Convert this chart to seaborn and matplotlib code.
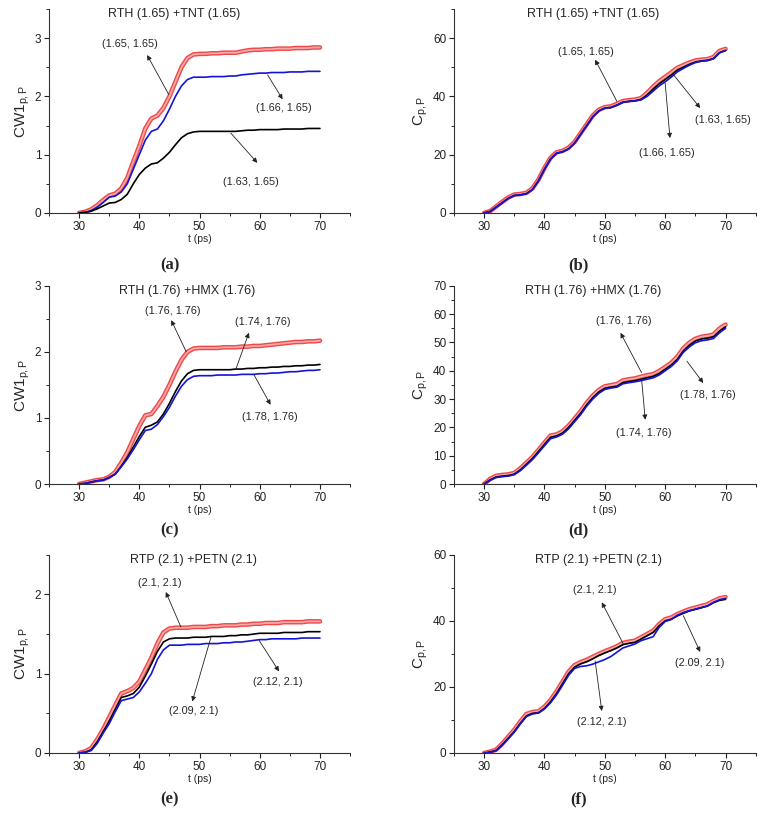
import matplotlib
matplotlib.use("Agg")
import matplotlib.pyplot as plt
import matplotlib.patheffects as pe
import seaborn as sns
from matplotlib.ticker import MultipleLocator

# time axis (ps), shared by all panels
t_ps = list(range(30, 71))

# (a) RTH (1.65) + TNT (1.65), CW1
a_165_165 = [0.00, 0.02, 0.06, 0.13, 0.22, 0.30, 0.33, 0.42, 0.60, 0.88, 1.15,
             1.45, 1.62, 1.67, 1.80, 2.00, 2.25, 2.50, 2.66, 2.72, 2.73,
             2.73, 2.74, 2.74, 2.75, 2.75, 2.75, 2.77, 2.79, 2.80, 2.80,
             2.81, 2.81, 2.82, 2.82, 2.82, 2.83, 2.83, 2.83, 2.84, 2.84]
a_166_165 = [0.00, 0.01, 0.04, 0.10, 0.18, 0.27, 0.29, 0.36, 0.50, 0.75, 1.00,
             1.25, 1.40, 1.44, 1.58, 1.78, 2.00, 2.18, 2.29, 2.33, 2.33,
             2.33, 2.34, 2.34, 2.34, 2.35, 2.35, 2.37, 2.38, 2.39, 2.40,
             2.40, 2.41, 2.41, 2.41, 2.42, 2.42, 2.42, 2.43, 2.43, 2.43]
a_163_165 = [0.00, 0.01, 0.03, 0.07, 0.12, 0.17, 0.18, 0.23, 0.32, 0.50, 0.66,
             0.77, 0.84, 0.86, 0.94, 1.04, 1.17, 1.29, 1.36, 1.39, 1.40,
             1.40, 1.40, 1.40, 1.40, 1.40, 1.40, 1.41, 1.42, 1.42, 1.43,
             1.43, 1.43, 1.43, 1.44, 1.44, 1.44, 1.44, 1.45, 1.45, 1.45]

# (b) RTH (1.65) + TNT (1.65), C
b_165_165 = [0.0, 0.6, 2.2, 3.8, 5.3, 6.3, 6.5, 6.9, 8.4, 11.4, 15.4,
             18.9, 20.8, 21.3, 22.4, 24.4, 27.4, 30.4, 33.4, 35.4, 36.3,
             36.6, 37.4, 38.4, 38.7, 38.9, 39.4, 41.2, 43.3, 45.2, 46.7,
             48.2, 49.8, 50.7, 51.6, 52.3, 52.6, 52.8, 53.5, 55.6, 56.3]
b_166_165 = [0.0, 0.5, 2.0, 3.5, 5.0, 6.0, 6.2, 6.6, 8.0, 11.0, 15.0,
             18.5, 20.5, 21.0, 22.0, 24.0, 27.0, 30.0, 33.0, 35.0, 36.0,
             36.2, 37.0, 38.0, 38.3, 38.5, 38.8, 40.0, 41.8, 43.6, 45.0,
             46.6, 48.4, 49.6, 50.7, 51.6, 52.1, 52.3, 52.9, 55.0, 55.7]
b_163_165 = [0.0, 0.5, 2.0, 3.5, 5.0, 6.0, 6.2, 6.6, 8.0, 11.0, 15.0,
             18.5, 20.5, 21.0, 22.0, 24.0, 27.0, 30.0, 33.0, 35.0, 36.0,
             36.2, 37.0, 38.0, 38.3, 38.5, 39.0, 40.5, 42.5, 44.3, 45.8,
             47.3, 49.0, 50.0, 51.0, 51.8, 52.2, 52.4, 53.0, 55.0, 55.8]

# (c) RTH (1.76) + HMX (1.76), CW1
c_176_176 = [0.00, 0.02, 0.04, 0.06, 0.07, 0.11, 0.18, 0.32, 0.48, 0.68, 0.88,
             1.04, 1.06, 1.18, 1.32, 1.50, 1.70, 1.88, 2.00, 2.05, 2.06,
             2.06, 2.06, 2.06, 2.07, 2.07, 2.07, 2.08, 2.08, 2.09, 2.09,
             2.10, 2.11, 2.12, 2.13, 2.14, 2.15, 2.15, 2.16, 2.16, 2.17]
c_174_176 = [0.00, 0.01, 0.03, 0.05, 0.06, 0.10, 0.15, 0.27, 0.40, 0.56, 0.72,
             0.86, 0.89, 0.94, 1.06, 1.22, 1.40, 1.56, 1.67, 1.72, 1.73,
             1.73, 1.73, 1.73, 1.73, 1.73, 1.74, 1.74, 1.75, 1.75, 1.76,
             1.76, 1.77, 1.77, 1.78, 1.78, 1.79, 1.79, 1.80, 1.80, 1.81]
c_178_176 = [0.00, 0.01, 0.03, 0.05, 0.06, 0.10, 0.15, 0.26, 0.38, 0.52, 0.67,
             0.81, 0.83, 0.90, 1.02, 1.16, 1.33, 1.48, 1.58, 1.63, 1.64,
             1.64, 1.64, 1.65, 1.65, 1.65, 1.65, 1.66, 1.66, 1.66, 1.67,
             1.67, 1.68, 1.68, 1.69, 1.70, 1.70, 1.71, 1.72, 1.72, 1.73]

# (d) RTH (1.76) + HMX (1.76), C
d_176_176 = [0.0, 1.8, 2.9, 3.2, 3.4, 3.9, 5.5, 7.5, 9.5, 12.0, 14.6,
             17.1, 17.5, 18.6, 20.6, 23.1, 25.7, 28.7, 31.2, 33.2, 34.5,
             34.9, 35.3, 36.6, 37.0, 37.3, 37.9, 38.4, 38.8, 39.9, 41.3,
             42.8, 44.9, 47.9, 49.9, 51.3, 52.0, 52.3, 52.8, 54.9, 56.3]
d_174_176 = [0.0, 1.5, 2.5, 2.8, 3.0, 3.5, 5.0, 7.0, 9.0, 11.5, 14.0,
             16.5, 17.0, 18.0, 20.0, 22.5, 25.0, 28.0, 30.5, 32.5, 33.8,
             34.2, 34.5, 35.8, 36.2, 36.5, 37.0, 37.5, 38.0, 39.0, 40.5,
             42.0, 44.0, 47.0, 49.0, 50.5, 51.2, 51.5, 52.0, 54.0, 55.5]
d_178_176 = [0.0, 1.3, 2.3, 2.6, 2.8, 3.3, 4.7, 6.6, 8.6, 11.0, 13.5,
             16.0, 16.6, 17.6, 19.5, 22.0, 24.5, 27.5, 30.0, 32.0, 33.4,
             33.9, 34.2, 35.4, 35.8, 36.1, 36.5, 37.0, 37.5, 38.5, 40.0,
             41.5, 43.5, 46.5, 48.4, 49.9, 50.6, 50.9, 51.4, 53.4, 55.0]

# (e) RTP (2.1) + PETN (2.1), CW1
e_210_210 = [0.00, 0.02, 0.06, 0.17, 0.30, 0.45, 0.60, 0.75, 0.78, 0.82, 0.90,
             1.05, 1.20, 1.38, 1.52, 1.57, 1.58, 1.58, 1.58, 1.59, 1.59,
             1.59, 1.60, 1.60, 1.61, 1.61, 1.61, 1.62, 1.62, 1.63, 1.63,
             1.64, 1.64, 1.64, 1.65, 1.65, 1.65, 1.65, 1.66, 1.66, 1.66]
e_209_210 = [0.00, 0.01, 0.04, 0.14, 0.27, 0.40, 0.55, 0.70, 0.72, 0.75, 0.83,
             0.97, 1.12, 1.28, 1.40, 1.44, 1.45, 1.45, 1.45, 1.46, 1.46,
             1.46, 1.47, 1.47, 1.47, 1.48, 1.48, 1.49, 1.49, 1.50, 1.51,
             1.51, 1.51, 1.51, 1.52, 1.52, 1.52, 1.52, 1.53, 1.53, 1.53]
e_212_210 = [0.00, 0.01, 0.03, 0.12, 0.25, 0.37, 0.52, 0.66, 0.68, 0.70, 0.77,
             0.88, 1.00, 1.18, 1.30, 1.36, 1.36, 1.36, 1.37, 1.37, 1.37,
             1.38, 1.38, 1.38, 1.39, 1.39, 1.40, 1.40, 1.41, 1.42, 1.43,
             1.43, 1.44, 1.44, 1.44, 1.44, 1.44, 1.45, 1.45, 1.45, 1.45]

# (f) RTP (2.1) + PETN (2.1), C
f_210_210 = [0.0, 0.4, 1.0, 2.8, 4.9, 7.0, 9.5, 11.8, 12.4, 12.6, 14.0,
             16.0, 18.6, 21.6, 24.6, 26.6, 27.5, 28.2, 29.1, 30.0, 30.8,
             31.5, 32.3, 33.3, 33.7, 34.0, 35.0, 36.0, 37.0, 39.0, 40.5,
             41.0, 42.0, 42.8, 43.5, 44.0, 44.5, 45.0, 46.0, 46.8, 47.2]
f_209_210 = [0.0, 0.3, 0.8, 2.5, 4.5, 6.5, 9.0, 11.2, 12.0, 12.2, 13.5,
             15.5, 18.0, 21.0, 24.0, 26.0, 27.0, 27.6, 28.5, 29.5, 30.3,
             31.0, 31.8, 32.8, 33.2, 33.5, 34.5, 35.5, 36.5, 38.5, 40.0,
             40.5, 41.5, 42.3, 43.0, 43.5, 44.0, 44.5, 45.5, 46.2, 46.5]
f_212_210 = [0.0, 0.2, 0.7, 2.3, 4.3, 6.3, 8.8, 11.0, 11.8, 12.1, 13.3,
             15.2, 17.6, 20.5, 23.5, 25.6, 26.2, 26.4, 26.9, 27.6, 28.3,
             29.2, 30.5, 31.8, 32.4, 33.0, 34.0, 34.6, 35.2, 38.0, 39.8,
             40.4, 41.7, 42.5, 43.1, 43.5, 44.0, 44.5, 45.6, 46.4, 46.8]

sns.set_style("ticks")
plt.rcParams["font.family"] = ["Liberation Sans", "DejaVu Sans"]
plt.rcParams["mathtext.fontset"] = "custom"
plt.rcParams["mathtext.rm"] = "Liberation Sans"
plt.rcParams["mathtext.it"] = "Liberation Sans:italic"

# red series is a dense chain of open circles: a red band with a pinkish core
RED = dict(color="#f7a8a8", linewidth=1.3,
           path_effects=[pe.Stroke(linewidth=3.3, foreground="#f04848"), pe.Normal()])
BLUE = dict(color="#1414d8", linewidth=1.2)
BLACK = dict(color="black", linewidth=1.2)

cw_label = r"CW1$_{\mathrm{p,P}}$"
c_label = r"C$_{\mathrm{p,P}}$"

panels = [
    dict(pos=[0.0638, 0.740, 0.392, 0.249], ylim=3.5, major=1, minor=0.5,
         ylabel=cw_label, title="RTH (1.65) +TNT (1.65)", tx=0.415, tag="(a)",
         lines=[(a_165_165, RED), (a_166_165, BLUE), (a_163_165, BLACK)],
         notes=[("(1.65, 1.65)", (38.5, 2.90), (44.9, 2.03), (41.3, 2.71)),
                ("(1.66, 1.65)", (64.0, 1.80), (61.3, 2.37), (63.8, 1.95)),
                ("(1.63, 1.65)", (58.5, 0.53), (55.2, 1.37), (59.6, 0.86))]),
    dict(pos=[0.591, 0.740, 0.393, 0.249], ylim=70, major=20, minor=10,
         ylabel=c_label, title="RTH (1.65) +TNT (1.65)", tx=0.46, tag="(b)",
         lines=[(b_165_165, RED), (b_163_165, BLACK), (b_166_165, BLUE)],
         notes=[("(1.65, 1.65)", (46.8, 55.4), (52.0, 38.3), (48.4, 52.6)),
                ("(1.63, 1.65)", (69.6, 31.8), (61.4, 47.4), (65.8, 36.0)),
                ("(1.66, 1.65)", (60.3, 20.6), (60.0, 44.6), (60.8, 25.7))]),
    dict(pos=[0.0638, 0.409, 0.392, 0.242], ylim=3, major=1, minor=0.5,
         ylabel=cw_label, title="RTH (1.76) +HMX (1.76)", tx=0.46, tag="(c)",
         lines=[(c_176_176, RED), (c_174_176, BLACK), (c_178_176, BLUE)],
         notes=[("(1.76, 1.76)", (45.6, 2.62), (47.8, 2.00), (45.3, 2.48)),
                ("(1.74, 1.76)", (60.5, 2.45), (56.0, 1.73), (58.2, 2.29)),
                ("(1.78, 1.76)", (61.7, 1.02), (59.0, 1.66), (61.8, 1.20))]),
    dict(pos=[0.591, 0.409, 0.393, 0.242], ylim=70, major=10, minor=5,
         ylabel=c_label, title="RTH (1.76) +HMX (1.76)", tx=0.46, tag="(d)",
         lines=[(d_176_176, RED), (d_174_176, BLACK), (d_178_176, BLUE)],
         notes=[("(1.76, 1.76)", (53.1, 57.6), (56.1, 39.3), (52.6, 53.4)),
                ("(1.78, 1.76)", (67.1, 31.6), (63.6, 43.4), (66.3, 35.7)),
                ("(1.74, 1.76)", (56.4, 18.0), (56.1, 36.9), (56.7, 22.7))]),
    dict(pos=[0.0638, 0.0806, 0.392, 0.242], ylim=2.5, major=1, minor=0.5,
         ylabel=cw_label, title="RTP (2.1) +PETN (2.1)", tx=0.48, tag="(e)",
         lines=[(e_210_210, RED), (e_209_210, BLACK), (e_212_210, BLUE)],
         notes=[("(2.1, 2.1)", (43.4, 2.14), (46.9, 1.59), (44.4, 2.03)),
                ("(2.09, 2.1)", (49.0, 0.53), (51.9, 1.46), (48.8, 0.65)),
                ("(2.12, 2.1)", (63.0, 0.89), (59.9, 1.42), (63.2, 1.03))]),
    dict(pos=[0.591, 0.0806, 0.393, 0.242], ylim=60, major=20, minor=10,
         ylabel=c_label, title="RTP (2.1) +PETN (2.1)", tx=0.48, tag="(f)",
         lines=[(f_210_210, RED), (f_209_210, BLACK), (f_212_210, BLUE)],
         notes=[("(2.1, 2.1)", (48.4, 49.2), (53.1, 32.9), (49.5, 45.6)),
                ("(2.09, 2.1)", (65.8, 27.2), (63.0, 41.6), (65.8, 30.6)),
                ("(2.12, 2.1)", (49.5, 9.3), (48.4, 27.9), (49.5, 12.7))]),
]

tag_pos = {"(a)": (0.221, 0.676), "(b)": (0.753, 0.676),
           "(c)": (0.221, 0.353), "(d)": (0.753, 0.353),
           "(e)": (0.221, 0.024), "(f)": (0.753, 0.024)}

fig = plt.figure(figsize=(7.68, 8.19), dpi=100)

for p in panels:
    ax = fig.add_axes(p["pos"])
    for values, style in p["lines"]:
        sns.lineplot(x=t_ps, y=values, ax=ax, **style)

    ax.set_xlim(25, 75)
    ax.set_ylim(0, p["ylim"])
    ax.xaxis.set_major_locator(MultipleLocator(10))
    ax.xaxis.set_minor_locator(MultipleLocator(5))
    ax.yaxis.set_major_locator(MultipleLocator(p["major"]))
    ax.yaxis.set_minor_locator(MultipleLocator(p["minor"]))
    ax.tick_params(which="major", direction="out", length=3.5, width=0.8,
                   labelsize=8.5, pad=2, colors="#222222")
    ax.tick_params(which="minor", direction="out", length=2, width=0.7)
    sns.despine(ax=ax)
    for s in ("left", "bottom"):
        ax.spines[s].set_linewidth(0.8)
        ax.spines[s].set_color("#333333")

    ax.set_xlabel("t (ps)", fontsize=7.5, labelpad=1)
    ax.set_ylabel(p["ylabel"], fontsize=11, labelpad=2)
    ax.text(p["tx"], 0.975, p["title"], transform=ax.transAxes,
            ha="center", va="center", fontsize=9)

    for label, txy, tail, head in p["notes"]:
        ax.annotate("", xy=head, xytext=tail,
                    arrowprops=dict(arrowstyle="-|>", color="#222222", lw=0.6,
                                    mutation_scale=7, shrinkA=0, shrinkB=0))
        ax.text(txy[0], txy[1], label, ha="center", va="center", fontsize=7.8)

    tx, ty = tag_pos[p["tag"]]
    fig.text(tx, ty, p["tag"], ha="center", va="center", fontsize=12,
             fontweight="bold", family="Liberation Serif")

fig.savefig("out.png", dpi=100)
